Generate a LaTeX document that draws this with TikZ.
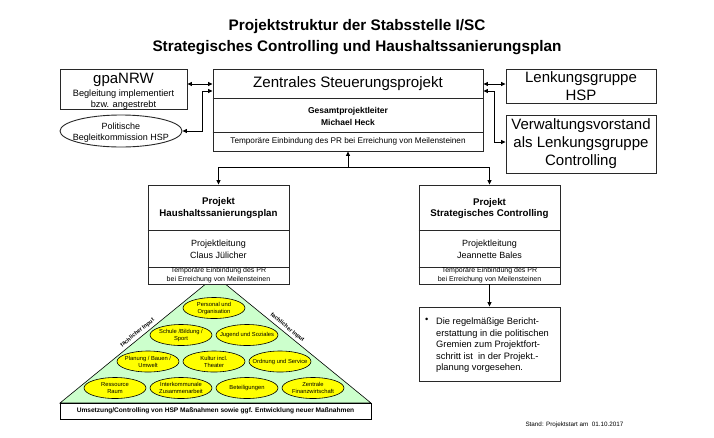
\documentclass[tikz,border=0pt]{standalone}
\usepackage{fontspec}
\setmainfont{Liberation Sans}
\usetikzlibrary{arrows.meta,shapes.geometric}
\newcommand\fsz[2]{\fontsize{#1}{#2}\selectfont}
\definecolor{pyrgreen}{RGB}{204,255,204}
\definecolor{ellyellow}{RGB}{255,255,0}
\definecolor{boxline}{RGB}{40,40,40}
\begin{document}
\begin{tikzpicture}[x=1pt,y=-1pt,
  >={Triangle[length=4.5pt,width=4pt]},
  box/.style={draw=boxline, line width=0.9pt, fill=white, inner sep=0pt},
  sep/.style={draw=boxline, line width=0.9pt},
  conn/.style={draw=black, line width=0.8pt},
  yell/.style={ellipse, draw=black, line width=0.6pt, fill=ellyellow, minimum width=62pt, minimum height=21pt, inner sep=0pt},
  etxt/.style={align=center, font=\fsz{5.8}{7}, inner sep=0pt},
  slab/.style={font=\bfseries\fsz{5.6}{6}, inner sep=0.5pt},
  big/.style={font=\fsz{15}{18}, align=center}]
\fill[white] (0,0) rectangle (714,437);
\useasboundingbox (0,0) rectangle (714,437);

% title
\node[font=\bfseries\fsz{15.3}{21}, align=center] (title) at (357,37)
  {Projektstruktur der Stabsstelle I/SC\\Strategisches Controlling und Haushaltssanierungsplan};

% pyramid
\coordinate (pl) at (60,403);
\coordinate (pr) at (371,403);
\coordinate (pa) at (215.5,276);
\filldraw[fill=pyrgreen, draw=black, line width=0.6pt] (pl) -- (pa) -- (pr) -- cycle;
\path (pl) -- (pa) node[pos=0.52, sloped, above=2pt, slab] (fil) {fachlicher Input};
\path (pa) -- (pr) node[pos=0.44, sloped, above=2pt, slab] (fir) {fachlicher Input};

\node[yell] (e1) at (214,308) {};
\node[etxt] (t1) at (e1) {Personal und\\Organisation};
\node[yell] (e2) at (181,335) {};
\node[etxt] (t2) at (e2) {Schule /Bildung /\\Sport};
\node[yell] (e3) at (247,335) {};
\node[etxt] (t3) at (e3) {Jugend und Soziales};
\node[yell] (e4) at (148,361.5) {};
\node[etxt] (t4) at (e4) {Planung / Bauen /\\Umwelt};
\node[yell] (e5) at (214,361.5) {};
\node[etxt] (t5) at (e5) {Kultur incl.\\Theater};
\node[yell] (e6) at (280,361.5) {};
\node[etxt] (t6) at (e6) {Ordnung und Service};
\node[yell] (e7) at (115,388) {};
\node[etxt] (t7) at (e7) {Ressource\\Raum};
\node[yell] (e8) at (181,388) {};
\node[etxt] (t8) at (e8) {Interkommunale\\Zusammenarbeit};
\node[yell] (e9) at (247,388) {};
\node[etxt] (t9) at (e9) {Beteiligungen};
\node[yell] (e10) at (313,388) {};
\node[etxt] (t10) at (e10) {Zentrale\\Finanzwirtschaft};

\node[draw=black, line width=0.6pt, fill=white, minimum width=311pt, minimum height=16pt, inner sep=0pt,
  font=\bfseries\fsz{6.6}{8}] (bar) at (215.5,411)
  {Umsetzung/Controlling von HSP Maßnahmen sowie ggf. Entwicklung neuer Maßnahmen};

\node[font=\fsz{6.3}{8}] (stand) at (574.5,425) {Stand: Projektstart am~~01.10.2017};

% top row
\node[box, minimum width=127pt, minimum height=40pt] (gpa) at (123.5,89) {};
\node[font=\fsz{15}{18}, inner sep=0pt] (gpat) at (123.5,80) {gpaNRW};
\node[font=\fsz{9.2}{10.5}, align=center, inner sep=0pt] (gpas) at (123.5,99.5) {Begleitung implementiert\\bzw. angestrebt};

\node[ellipse, draw=boxline, line width=0.9pt, fill=white, minimum width=122pt, minimum height=32pt, inner sep=0pt] (pbk) at (121,131) {};
\node[font=\fsz{9}{11}, align=center, inner sep=0pt] (pbkt) at (121,132.5) {Politische\\Begleitkommission HSP};

\node[box, minimum width=270pt, minimum height=82pt] (zsp) at (348,110) {};
\draw[sep] (zsp.west |- 0,98) -- (zsp.east |- 0,98);
\draw[sep] (zsp.west |- 0,132) -- (zsp.east |- 0,132);
\node[font=\fsz{15.1}{18}, inner sep=0pt] (zspt) at (348,84) {Zentrales Steuerungsprojekt};
\node[font=\bfseries\fsz{8.5}{12}, align=center, inner sep=0pt] (zspl) at (348,116) {Gesamtprojektleiter\\Michael Heck};
\node[font=\fsz{8.2}{10}, inner sep=0pt] (zspm) at (348,141.5) {Temporäre Einbindung des PR bei Erreichung von Meilensteinen};

\node[box, big, minimum width=150pt, minimum height=34pt] (lhsp) at (581,86) {Lenkungsgruppe\\HSP};
\node[box, big, minimum width=150pt, minimum height=58pt] (vv) at (581,144) {Verwaltungsvorstand\\als Lenkungsgruppe\\Controlling};

% second row
\node[box, minimum width=141pt, minimum height=99pt] (hsp) at (218.5,234.5) {};
\draw[sep] (hsp.west |- 0,230) -- (hsp.east |- 0,230);
\draw[sep] (hsp.west |- 0,267) -- (hsp.east |- 0,267);
\node[font=\bfseries\fsz{9.7}{11.5}, align=center, inner sep=0pt] (hspt) at (218.5,208) {Projekt\\Haushaltssanierungsplan};
\node[font=\fsz{9}{12}, align=center, inner sep=0pt] (hspl) at (218.5,249.5) {Projektleitung\\Claus Jülicher};
\node[font=\fsz{7}{9}, align=center, inner sep=0pt] (hspm) at (218.5,275.5) {Temporäre Einbindung des PR\\bei Erreichung von Meilensteinen};

\node[box, minimum width=141pt, minimum height=99pt] (sc) at (489.5,234.5) {};
\draw[sep] (sc.west |- 0,230) -- (sc.east |- 0,230);
\draw[sep] (sc.west |- 0,267) -- (sc.east |- 0,267);
\node[font=\bfseries\fsz{9.7}{11.5}, align=center, inner sep=0pt] (sct) at (489.5,208.5) {Projekt\\Strategisches Controlling};
\node[font=\fsz{9}{12}, align=center, inner sep=0pt] (scl) at (489.5,249.5) {Projektleitung\\Jeannette Bales};
\node[font=\fsz{7}{9}, align=center, inner sep=0pt] (scm) at (489.5,275.5) {Temporäre Einbindung des PR\\bei Erreichung von Meilensteinen};

% bullet box
\node[box, minimum width=141pt, minimum height=74pt] (bul) at (489.5,344) {};
\node[font=\fsz{9.3}{11.4}, anchor=north west, inner sep=0pt] (bulb) at (425,318) {•};
\node[font=\fsz{9.3}{11.4}, anchor=north west, align=left, inner sep=0pt] (bult) at (436,318)
  {Die regelmäßige Bericht-\\erstattung in die politischen\\Gremien zum Projektfort-\\schritt ist~ in der Projekt.-\\planung vorgesehen.};

% connectors
\draw[conn,<->] ([yshift=5pt]gpa.east) -- ([yshift=5pt]gpa.east -| zsp.west);
\coordinate (lk) at (202,91);
\draw[conn,<->] (pbk.east) -| (lk) -- (lk -| zsp.west);
\draw[conn,<->] (zsp.east |- 0,84) -- (lhsp.west |- 0,84);
\coordinate (rk) at (494,91);
\draw[conn,<->] (zsp.east |- rk) -- (rk) |- ([yshift=2pt]vv.west);
\coordinate (tj) at (348,167);
\draw[conn,->] (tj) -- (zsp.south);
\draw[conn,->] (tj) -| (hsp.north);
\draw[conn,->] (tj) -| (sc.north);
\draw[conn,->] (sc.south) -- (bul.north);
\end{tikzpicture}
\end{document}
